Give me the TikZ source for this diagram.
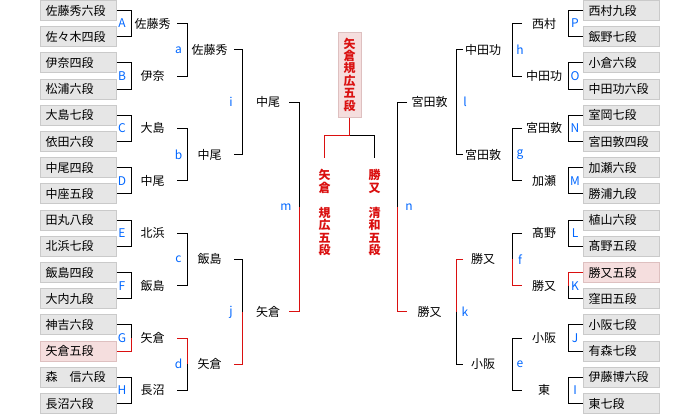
\documentclass[tikz,border=0pt]{standalone}
\usepackage{fontspec}
\setmainfont{Noto Sans CJK JP}
\usetikzlibrary{calc}
\definecolor{boxfill}{RGB}{230,230,230}
\definecolor{boxline}{RGB}{202,202,202}
\definecolor{pinkfill}{RGB}{245,222,222}
\definecolor{pinkline}{RGB}{222,192,192}
\definecolor{winred}{RGB}{218,16,16}
\definecolor{lblblue}{RGB}{0,102,255}
% bracket: #1 top node, #2 bottom node, #3 start x, #4 vertical x, #5 top colour, #6 bottom colour
\newcommand\brk[6]{%
  \coordinate (s1) at (#1 -| #3,0);
  \coordinate (v1) at (#1 -| #4,0);
  \coordinate (s2) at (#2 -| #3,0);
  \coordinate (v2) at (#2 -| #4,0);
  \coordinate (vm) at ($(v1)!0.5!(v2)$);
  \draw[conn,#5] (s1) -- (v1) -- (vm);
  \draw[conn,#6] (vm) -- (v2) -- (s2);
}
\begin{document}
\begin{tikzpicture}[x=1pt,y=-1pt,
  conn/.style={line width=1pt},
  box/.style={draw=boxline, fill=boxfill, line width=1pt, minimum width=76pt, minimum height=20pt,
    inner xsep=5pt, inner ysep=2pt, text width=66pt, align=left, anchor=west,
    font=\fontsize{12}{14}\selectfont},
  pbox/.style={box, draw=pinkline, fill=pinkfill},
  nm/.style={inner sep=0pt, font=\fontsize{12}{14}\selectfont},
  lbl/.style={inner sep=0pt, text=lblblue, font=\fontsize{12}{14}\selectfont},
  vtext/.style={align=center, text=winred, font=\fontsize{12}{12.5}\selectfont\bfseries},
  finalbox/.style={draw=pinkline, fill=pinkfill, line width=1pt, minimum width=23pt, minimum height=85pt,
    inner sep=0pt, align=center, text=winred, font=\fontsize{12}{12.4}\selectfont\bfseries}
  ]
\useasboundingbox (0,0) rectangle (700,415);
% ---- players, left
\foreach \t/\s [count=\i from 0] in {佐藤秀六段/box,佐々木四段/box,伊奈四段/box,松浦六段/box,
  大島七段/box,依田六段/box,中尾四段/box,中座五段/box,田丸八段/box,北浜七段/box,
  飯島四段/box,大内九段/box,神吉六段/box,矢倉五段/pbox,森　信六段/box,長沼六段/box}{
  \pgfmathsetmacro\yy{10.5+26.2*\i}
  \node[\s] (L\i) at (40,\yy) {\t};
}
% ---- players, right
\foreach \t/\s [count=\i from 0] in {西村九段/box,飯野七段/box,小倉六段/box,中田功六段/box,
  室岡七段/box,宮田敦四段/box,加瀬六段/box,勝浦九段/box,植山六段/box,髙野五段/box,
  勝又五段/pbox,窪田五段/box,小阪七段/box,有森七段/box,伊藤博六段/box,東七段/box}{
  \pgfmathsetmacro\yy{10.5+26.2*\i}
  \node[\s] (R\i) at (583,\yy) {\t};
}
% ---- round 1 winners and labels
\foreach \t/\l [count=\i from 0] in {佐藤秀/A,伊奈/B,大島/C,中尾/D,北浜/E,飯島/F,矢倉/G,長沼/H}{
  \pgfmathsetmacro\yy{23.6+52.4*\i}
  \node[nm] (aL\i) at (152.5,\yy) {\t};
  \node[lbl] (laL\i) at (122,\yy) {\l};
}
\foreach \t/\l [count=\i from 0] in {西村/P,中田功/O,宮田敦/N,加瀬/M,髙野/L,勝又/K,小阪/J,東/I}{
  \pgfmathsetmacro\yy{23.6+52.4*\i}
  \node[nm] (aR\i) at (544,\yy) {\t};
  \node[lbl] (laR\i) at (575,\yy) {\l};
}
% ---- round 2 winners and labels
\foreach \t/\l [count=\i from 0] in {佐藤秀/a,中尾/b,飯島/c,矢倉/d}{
  \pgfmathsetmacro\yy{49.8+104.8*\i}
  \node[nm] (bL\i) at (209.5,\yy) {\t};
  \node[lbl] (lbL\i) at (178.5,\yy) {\l};
}
\foreach \t/\l [count=\i from 0] in {中田功/h,宮田敦/g,勝又/f,小阪/e}{
  \pgfmathsetmacro\yy{49.8+104.8*\i}
  \node[nm] (bR\i) at (483,\yy) {\t};
  \node[lbl] (lbR\i) at (520,\yy) {\l};
}
% ---- round 3 winners and labels
\foreach \t/\l [count=\i from 0] in {中尾/i,矢倉/j}{
  \pgfmathsetmacro\yy{102.2+209.6*\i}
  \node[nm] (cL\i) at (268,\yy) {\t};
  \node[lbl] (lcL\i) at (231,\yy) {\l};
}
\foreach \t/\l [count=\i from 0] in {宮田敦/l,勝又/k}{
  \pgfmathsetmacro\yy{102.2+209.6*\i}
  \node[nm] (cR\i) at (429.5,\yy) {\t};
  \node[lbl] (lcR\i) at (465,\yy) {\l};
}
\node[lbl] (lm) at (286,207) {m};
\node[lbl] (ln) at (409,207) {n};
% ---- brackets round 1
\foreach \k/\ct/\cb in {0/black/black,1/black/black,2/black/black,3/black/black,
  4/black/black,5/black/black,6/black/winred,7/black/black}{
  \pgfmathtruncatemacro\a{2*\k}\pgfmathtruncatemacro\b{2*\k+1}
  \brk{L\a.east}{L\b.east}{117}{131}{\ct}{\cb}
}
\foreach \k/\ct/\cb in {0/black/black,1/black/black,2/black/black,3/black/black,
  4/black/black,5/winred/black,6/black/black,7/black/black}{
  \pgfmathtruncatemacro\a{2*\k}\pgfmathtruncatemacro\b{2*\k+1}
  \brk{R\a.west}{R\b.west}{583}{568}{\ct}{\cb}
}
% ---- brackets round 2
\foreach \k/\ct/\cb in {0/black/black,1/black/black,2/black/black,3/winred/black}{
  \pgfmathtruncatemacro\a{2*\k}\pgfmathtruncatemacro\b{2*\k+1}
  \brk{aL\a}{aL\b}{177}{187}{\ct}{\cb}
}
\foreach \k/\ct/\cb in {0/black/black,1/black/black,2/black/winred,3/black/black}{
  \pgfmathtruncatemacro\a{2*\k}\pgfmathtruncatemacro\b{2*\k+1}
  \brk{aR\a}{aR\b}{522}{512}{\ct}{\cb}
}
% ---- brackets round 3
\brk{bL0}{bL1}{234}{242}{black}{black}
\brk{bL2}{bL3}{234}{242}{black}{winred}
\brk{bR0}{bR1}{463}{456}{black}{black}
\brk{bR2}{bR3}{463}{456}{winred}{black}
% ---- brackets round 4
\brk{cL0}{cL1}{289}{299}{black}{winred}
\brk{cR0}{cR1}{407}{397}{black}{winred}
% ---- final
\node[finalbox] (F) at (349.5,74.5) {矢\\倉\\規\\広\\五\\段};
\node[vtext, inner sep=0pt, inner ysep=11pt] (FL) at (324.5,212.5) {矢\\倉\\ \\規\\広\\五\\段};
\node[vtext, inner sep=0pt, inner ysep=11pt] (FR) at (374.5,212.5) {勝\\又\\ \\清\\和\\五\\段};
\coordinate (FJ) at (F.south |- 0,135);
\draw[conn,winred] (F.south) -- (FJ) -| (FL.north);
\draw[conn] (FJ) -| (FR.north);
\end{tikzpicture}
\end{document}
